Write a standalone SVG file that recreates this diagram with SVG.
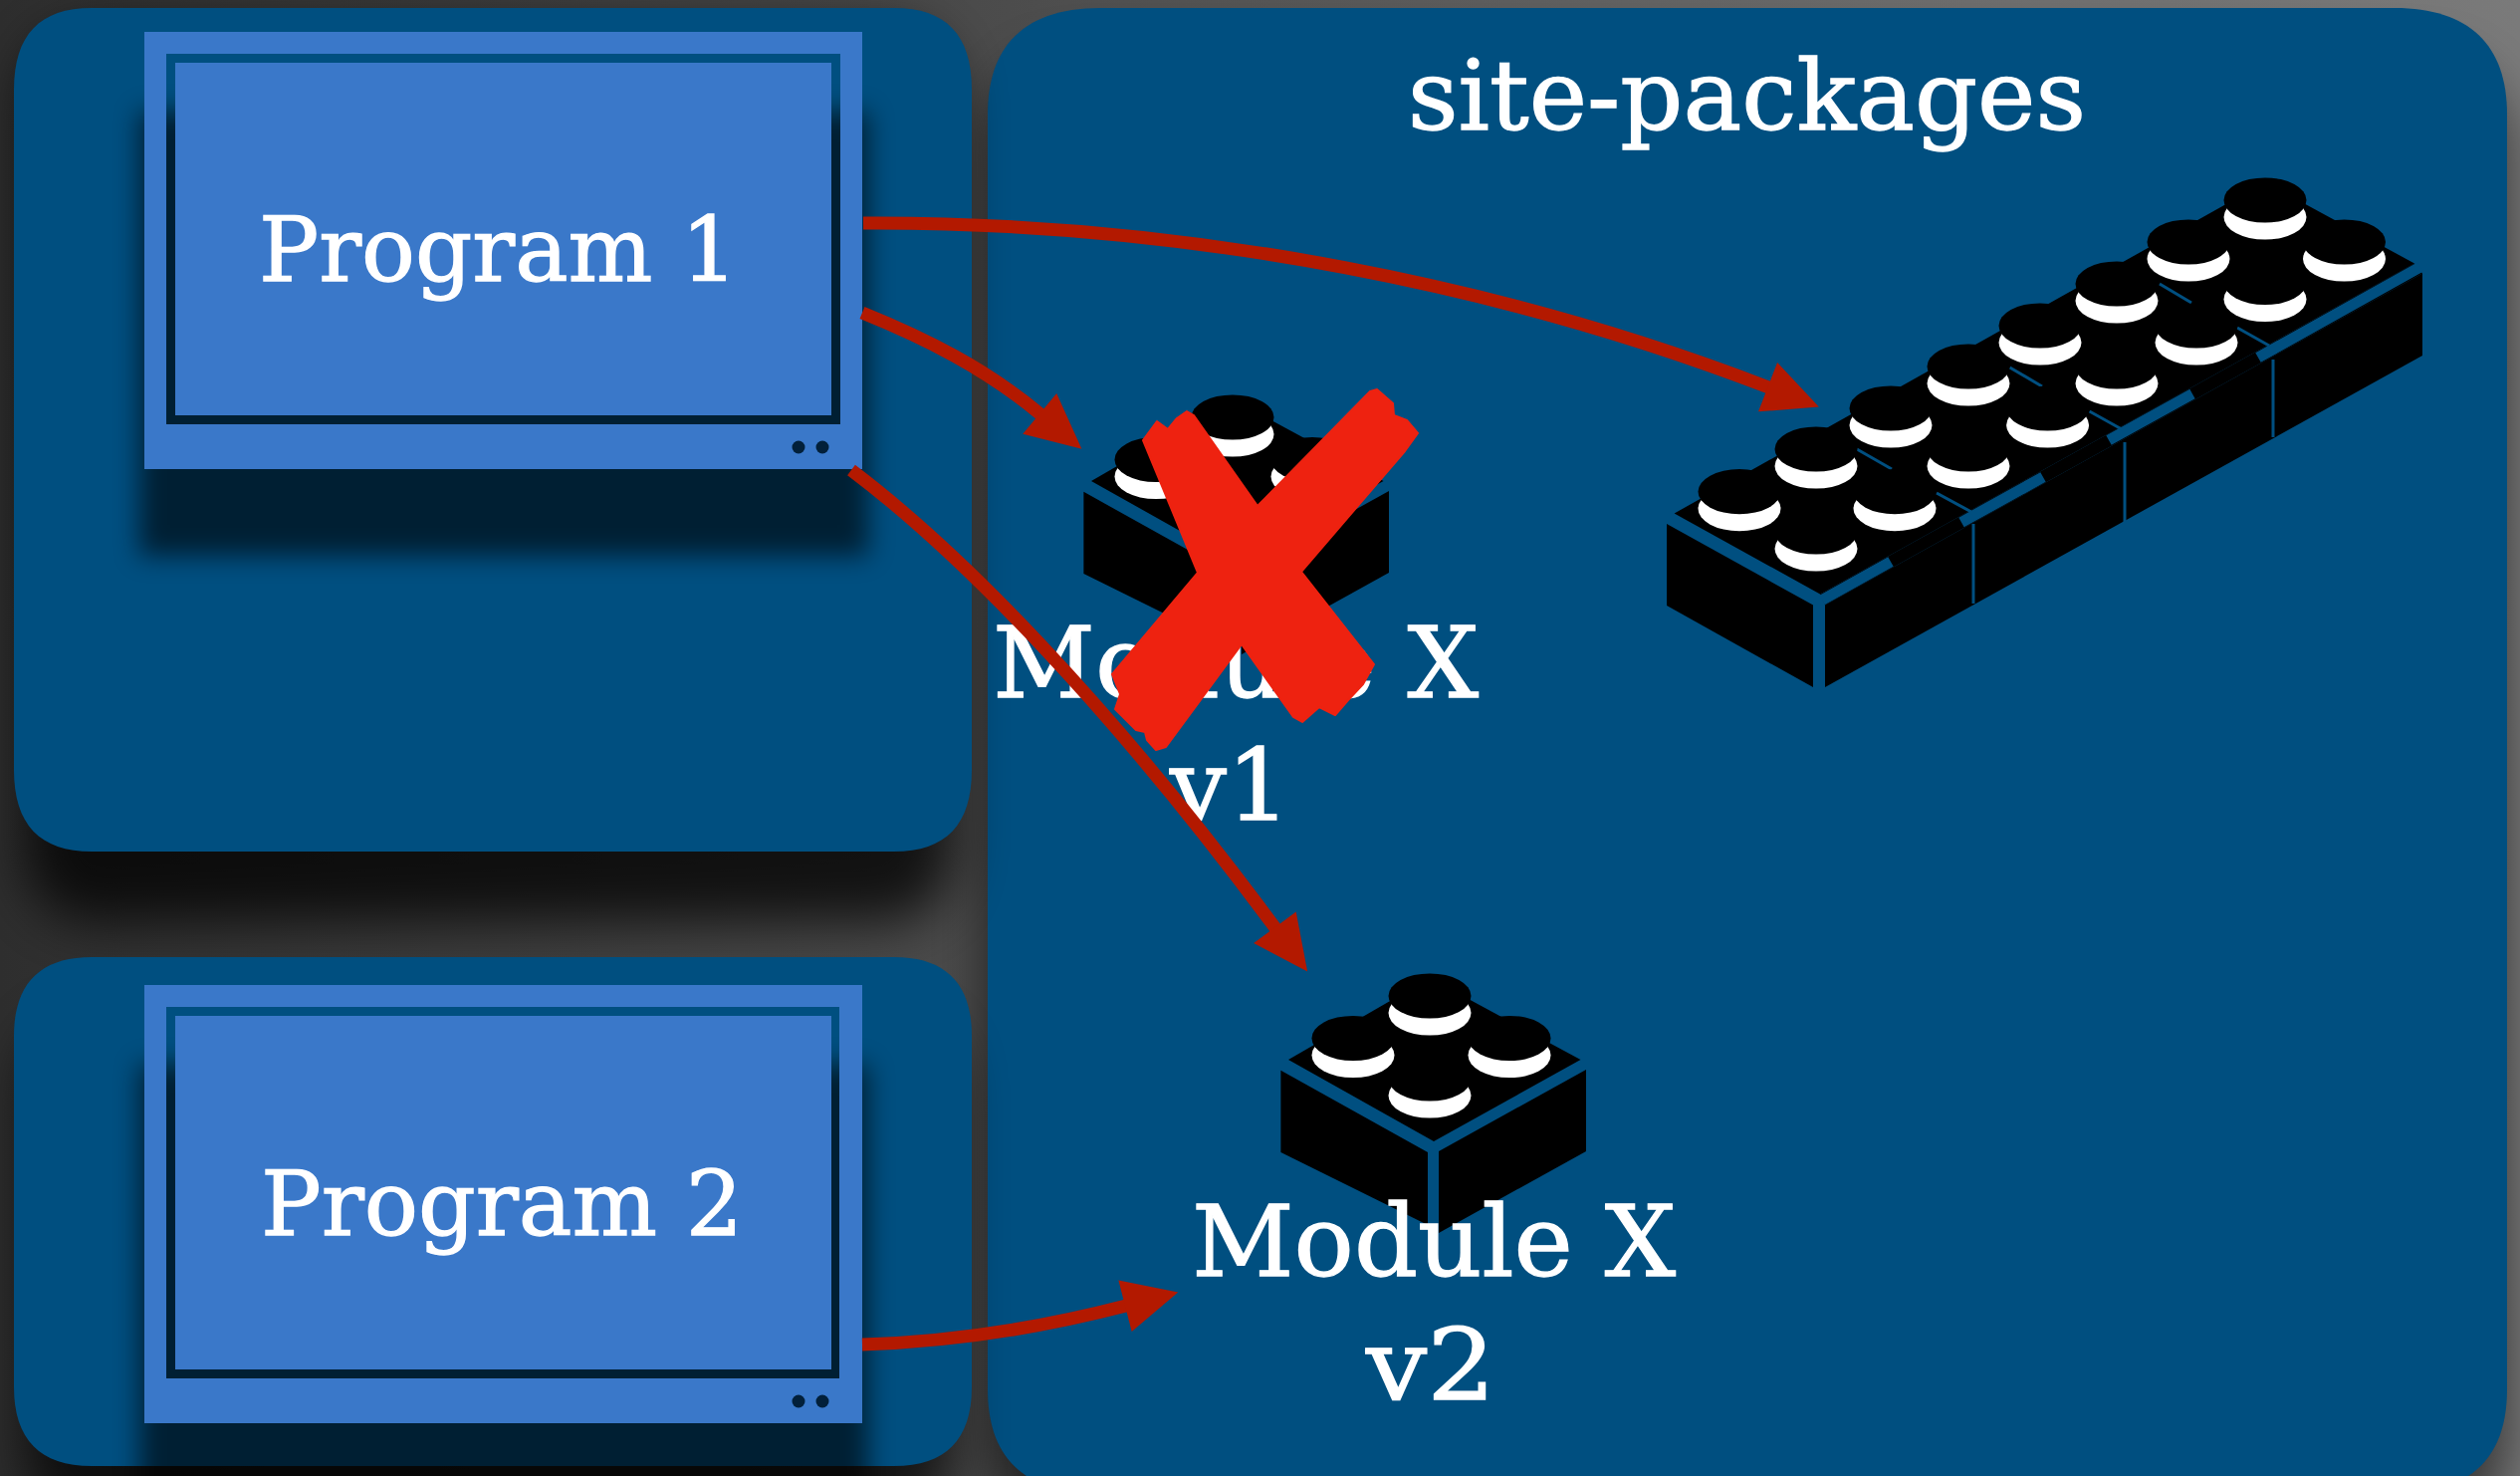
<svg xmlns="http://www.w3.org/2000/svg" width="2531" height="1482" viewBox="0 0 2531 1482">
<defs>
<style>
.panel{fill:#004f80}
.mon{fill:#3a78c9;fill-rule:evenodd}
.screen{fill:#3a78c9}
.dot{fill:#02203a}
.sh{fill:#000;opacity:.6;filter:url(#b12)}
.t{font-family:"DejaVu Serif","Liberation Serif",serif;fill:#fff;stroke:#fff;stroke-width:1.3;text-anchor:start}
.conn{fill:none;stroke:#b31900;stroke-width:13;marker-end:url(#head)}
.k{fill:#000}
.w{fill:#fff}
.gap{stroke:#004f80;fill:none}
</style>
<filter id="b12" x="-20%" y="-20%" width="140%" height="140%"><feGaussianBlur stdDeviation="13"/></filter>
<filter id="b30" x="-20%" y="-20%" width="140%" height="140%"><feGaussianBlur stdDeviation="26"/></filter>
<marker id="head" markerUnits="userSpaceOnUse" markerWidth="60" markerHeight="60" refX="1" refY="30" orient="auto" overflow="visible"><path d="M0,3.5 L55,30 L0,56.5Z" fill="#b31900"/></marker>
<g id="stud"><ellipse class="w" cx="0" cy="17" rx="41.5" ry="22.6"/><ellipse class="k" cx="0" cy="0" rx="41.5" ry="22.6"/></g>
<g id="brick">
<polygon class="k" points="1286.4,1074.8 1434,1157 1434,1230 1286.4,1157"/>
<polygon class="k" points="1445,1156 1593,1074 1593,1156 1445,1238"/>
<polygon class="k" points="1294,1064 1436,982 1587.5,1064 1440,1146"/>
<use href="#stud" x="1436" y="1000"/><use href="#stud" x="1359" y="1042.5"/><use href="#stud" x="1516" y="1042.5"/><use href="#stud" x="1436" y="1083"/>
</g>
<linearGradient id="bgG" x1="0" y1="0" x2="1" y2="0"><stop offset="0" stop-color="#2e2e2e"/><stop offset=".4" stop-color="#4c4c4c"/><stop offset=".75" stop-color="#6a6a6a"/><stop offset="1" stop-color="#7a7a7a"/></linearGradient>
</defs>
<rect width="2531" height="1482" fill="url(#bgG)"/>
<g id="backdrop-shadows">
<rect x="992" y="60" width="1526" height="1480" rx="90" fill="#000" opacity=".55" filter="url(#b30)"/>
</g>
<g id="site-packages">
<path class="panel" d="M992,115 C992,45 1030,8 1105,8 H2405 C2480,8 2518,45 2518,115 V1395 C2518,1465 2480,1500 2405,1500 H1105 C1030,1500 992,1465 992,1395Z"/>
</g>
<g id="env-shadows">
<rect x="24" y="30" width="934" height="895" rx="70" fill="#000" opacity=".75" filter="url(#b30)"/>
<rect x="24" y="1020" width="934" height="510" rx="70" fill="#000" opacity=".7" filter="url(#b30)"/>
</g>
<g id="site-label">
<text class="t" x="1414" y="130" font-size="98" textLength="681" lengthAdjust="spacingAndGlyphs">site-packages</text>
</g>
<g id="env-1">
<path class="panel" d="M14,90 C14,35 40,8 92,8 H898 C950,8 976,35 976,90 V773 C976,828 950,855 898,855 H92 C40,855 14,828 14,773Z"/>
</g>
<g id="env-2">
<path class="panel" d="M14,1040 C14,988 40,961 92,961 H898 C950,961 976,988 976,1040 V1393 C976,1445 950,1472 898,1472 H92 C40,1472 14,1445 14,1393Z"/>
</g>
<g id="program-1">
<rect class="sh" x="140" y="112" width="732" height="446"/>
<path class="mon" d="M145,32 H866 V471 H145Z M167,54 V426 H844 V54Z"/>
<rect class="screen" x="176" y="63" width="659" height="354"/>
<ellipse class="dot" cx="802" cy="449" rx="6.5" ry="6.5"/><ellipse class="dot" cx="826" cy="449" rx="6.5" ry="6.5"/>
<text class="t" x="260" y="282" font-size="90" textLength="481" lengthAdjust="spacingAndGlyphs">Program 1</text>
</g>
<g id="program-2">
<rect class="sh" x="140" y="1069" width="732" height="446"/>
<path class="mon" d="M145,989 H866 V1429 H145Z M167,1011 V1384 H843 V1011Z"/>
<rect class="screen" x="176" y="1020" width="659" height="355"/>
<ellipse class="dot" cx="802" cy="1407" rx="6.5" ry="6.5"/><ellipse class="dot" cx="826" cy="1407" rx="6.5" ry="6.5"/>
<text class="t" x="262" y="1240" font-size="90" textLength="484" lengthAdjust="spacingAndGlyphs">Program 2</text>
</g>
<g id="module-v2">
<use href="#brick"/>
<text class="t" x="1197" y="1281" font-size="100" textLength="486" lengthAdjust="spacingAndGlyphs">Module X</text>
<text class="t" x="1372" y="1405" font-size="100" textLength="130" lengthAdjust="spacingAndGlyphs">v2</text>
</g>
<g id="module-v1">
<use href="#brick" x="-198" y="-581"/>
<text class="t" x="997" y="700" font-size="100" textLength="488" lengthAdjust="spacingAndGlyphs">Module X</text>
<text class="t" x="1175" y="823" font-size="100" textLength="121" lengthAdjust="spacingAndGlyphs">v1</text>
<polygon id="cross" fill="#ee2210" stroke="#ee2210" stroke-width="2" stroke-linejoin="round" points="1148,442 1162,423 1173,431 1182,420 1192,413 1199,417 1263,508 1376,393 1383,391 1399,405 1400,417 1413,422 1424,435 1411,453 1307,574 1380,667 1369,687 1354,703 1341,718 1325,710 1308,725 1299,720 1247,647 1171,750 1161,753 1152,743 1150,735 1141,733 1120,712 1125,697 1117,677 1203,575"/>
</g>
<g id="module-long">
<polygon class="k" points="1681.6,515.5 2275,183 2425,264.5 1828,596.5"/>
<polygon class="k" points="1674,526 1821,607.5 1821,690 1674,608"/>
<polygon class="k" points="1833,607.5 2433,274.4 2433,357 1833,690"/>
<polygon class="k" points="1828,596.5 2425,264.5 2433,274.4 1833,607.5"/>
<g class="gap" stroke-width="11">
<path d="M1830,602.5 L1899,564 M1970,524.5 L2052,479 M2118,442 L2202,395.5 M2268,359 L2431,268"/>
</g>
<g class="gap" stroke-width="3">
<path d="M1982,526 V606 M2134,444 V524 M2283,361 V439"/>
<path d="M1865,451 L1900,471 M1945,495 L1980,514 M2018.6,369 L2051,388 M2098.6,413 L2131,431 M2169,285 L2201,304 M2247,329 L2279,347"/>
</g>
<use href="#stud" x="2275" y="201"/><use href="#stud" x="2198" y="243"/><use href="#stud" x="2126" y="285"/><use href="#stud" x="2049" y="327"/><use href="#stud" x="1977" y="368"/><use href="#stud" x="1899" y="410"/><use href="#stud" x="1824" y="451"/><use href="#stud" x="1747" y="493.7"/>
<use href="#stud" x="2354.5" y="243"/><use href="#stud" x="2275" y="283.5"/><use href="#stud" x="2206" y="327"/><use href="#stud" x="2126" y="368"/><use href="#stud" x="2056.6" y="410"/><use href="#stud" x="1977" y="451"/><use href="#stud" x="1903" y="493.7"/><use href="#stud" x="1824" y="534"/>
</g>
<g id="connectors">
<path class="conn" d="M867,224 C1200,222 1520,290 1776.5,389"/>
<path class="conn" d="M866,314 C930,340 990,370 1045,416"/>
<path class="conn" d="M855,472 C965,555 1115,708 1281,932"/>
<path class="conn" d="M866,1350 C960,1347 1050,1332 1131,1311"/>
</g>
</svg>
